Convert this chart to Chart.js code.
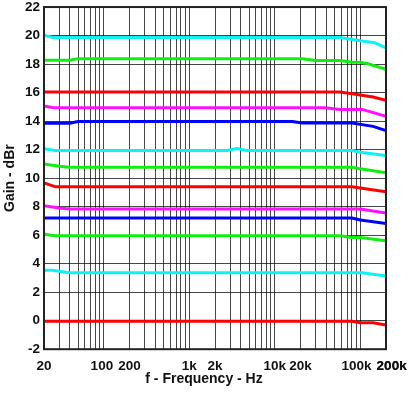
<!DOCTYPE html>
<html>
<head>
<meta charset="utf-8">
<script src="https://cdn.jsdelivr.net/npm/chart.js@4/dist/chart.umd.min.js"></script>
<style>
  html, body { margin: 0; padding: 0; background: #fff; }
  #wrap { width: 408px; height: 396px; }
</style>
</head>
<body>
<div id="wrap"><canvas id="gainChart"></canvas></div>
<script>
// ── DATA ───────────────────────────────────────────────────────
// x-axis labels shown under the log grid (the last two spread apart, as in the original)
const xLabelValues = [20, 100, 200, 1000, 2000, 10000, 20000, 100000, 200000];
const xLabelTexts  = ['20', '100 ', '200', '1k', '2k', '10k', '20k', '100k  ', '   200k'];

// each curve: frequencies (Hz) and gains (dBr)
const cyanAF = [20, 25, 58000, 72000, 100000, 149000, 200000];
const cyanAG = [20.03, 19.87, 19.87, 19.77, 19.63, 19.49, 19.14];

const greenAF = [20, 40, 50, 21000, 30000, 58000, 80000, 100000, 120000, 200000];
const greenAG = [18.27, 18.27, 18.38, 18.38, 18.25, 18.25, 18.13, 18.13, 18.04, 17.63];

const redAF = [20, 58000, 92000, 141000, 200000];
const redAG = [16.04, 16.04, 15.86, 15.69, 15.46];

const magentaAF = [20, 26, 39000, 58000, 105000, 200000];
const magentaAG = [15.06, 14.93, 14.93, 14.82, 14.82, 14.33];

const blueAF = [20, 40, 50, 16000, 21000, 80000, 141000, 200000];
const blueAG = [13.85, 13.85, 13.97, 13.97, 13.86, 13.86, 13.63, 13.34];

const cyanBF = [20, 27, 2800, 3600, 4700, 80000, 100000, 200000];
const cyanBG = [12.06, 11.94, 11.94, 12.08, 11.94, 11.94, 11.82, 11.58];

const greenBF = [20, 30, 40, 80000, 100000, 200000];
const greenBG = [11.0, 10.84, 10.76, 10.76, 10.65, 10.37];

const redBF = [20, 27, 80000, 100000, 200000];
const redBG = [9.66, 9.4, 9.4, 9.31, 9.05];

const magentaBF = [20, 30, 40, 100000, 200000];
const magentaBG = [8.07, 7.9, 7.83, 7.83, 7.55];

const blueBF = [20, 80000, 100000, 200000];
const blueBG = [7.2, 7.2, 7.06, 6.82];

const greenCF = [20, 27, 58000, 80000, 100000, 200000];
const greenCG = [6.07, 5.96, 5.96, 5.84, 5.84, 5.6];

const cyanCF = [20, 25, 40, 105000, 200000];
const cyanCG = [3.54, 3.54, 3.37, 3.37, 3.14];

const redCF = [20, 80000, 100000, 141000, 200000];
const redCG = [-0.04, -0.04, -0.15, -0.15, -0.31];

// ── COLOURS ────────────────────────────────────────────────────
const CYAN = '#10f2f2', GREEN = '#10f010', RED = '#ff0000', MAGENTA = '#ff10ff', BLUE = '#0000ff';

const curves = [
  [cyanAF, cyanAG, CYAN], [greenAF, greenAG, GREEN], [redAF, redAG, RED],
  [magentaAF, magentaAG, MAGENTA], [blueAF, blueAG, BLUE],
  [cyanBF, cyanBG, CYAN], [greenBF, greenBG, GREEN], [redBF, redBG, RED],
  [magentaBF, magentaBG, MAGENTA], [blueBF, blueBG, BLUE],
  [greenCF, greenCG, GREEN], [cyanCF, cyanCG, CYAN], [redCF, redCG, RED],
];

// log grid: 20,30..90,100,200..900,... up to 200k
const xGrid = [];
for (let dec = 10; dec <= 100000; dec *= 10) {
  for (let m = 1; m <= 9; m++) {
    const v = m * dec;
    if (v >= 20 && v <= 200000) xGrid.push(v);
  }
}
xGrid.push(200000);

// frame round the plot area
const framePlugin = {
  id: 'frame',
  afterDraw(chart) {
    const { ctx, chartArea: a } = chart;
    ctx.save();
    ctx.strokeStyle = '#222';
    ctx.lineWidth = 2;
    ctx.strokeRect(a.left, a.top, a.right - a.left, a.bottom - a.top);
    ctx.restore();
  },
};

const FONT = "'Liberation Sans', Arial, sans-serif";
const GRID = 'rgba(0,0,0,0.72)';

new Chart(document.getElementById('gainChart').getContext('2d'), {
  type: 'line',
  data: {
    datasets: curves.map(([f, g, color]) => ({
      data: f.map((x, i) => ({ x, y: g[i] })),
      borderColor: color,
      borderWidth: 3,
      pointRadius: 0,
      tension: 0,
      borderJoinStyle: 'round',
      yAxisID: 'y',
    })),
  },
  options: {
    responsive: true,
    maintainAspectRatio: false,
    animation: false,
    layout: { padding: 0 },
    plugins: {
      legend: { display: false },
      tooltip: { enabled: false },
      title: {
        display: true,
        text: 'f - Frequency - Hz',
        position: 'bottom',
        color: '#111',
        font: { family: FONT, size: 14, weight: 'bold' },
        padding: { top: 0, bottom: 8.5 },
      },
    },
    scales: {
      x: {
        type: 'logarithmic',
        min: 20, max: 200000,
        afterBuildTicks: s => { s.ticks = xGrid.map(v => ({ value: v })); },
        // fixed height; let the end labels overhang instead of shrinking the plot
        afterFit: s => { s.height = 21.5; s.paddingLeft = 0; s.paddingRight = 0; },
        grid: { color: GRID, lineWidth: 1, drawTicks: false },
        border: { display: false },
        ticks: {
          autoSkip: false, maxRotation: 0, padding: 9,
          color: '#111',
          font: { family: FONT, size: 13.5, weight: 'bold' },
          callback: v => {
            const i = xLabelValues.indexOf(v);
            return i >= 0 ? xLabelTexts[i] : '';
          },
        },
      },
      y: {
        min: -2, max: 22,
        afterFit: s => { s.width = 44; },
        grid: { color: GRID, lineWidth: 1, drawTicks: false },
        border: { display: false },
        ticks: {
          stepSize: 2, padding: 4,
          color: '#111',
          font: { family: FONT, size: 13.5, weight: 'bold', lineHeight: 0.45 },
        },
        title: {
          display: true,
          text: 'Gain - dBr',
          color: '#111',
          font: { family: FONT, size: 14, weight: 'bold' },
          padding: { top: 2, bottom: 0 },
        },
      },
      // empty right-hand gap so the plot ends where the reference does
      y2: {
        position: 'right',
        min: -2, max: 22,
        afterFit: s => { s.width = 22; },
        grid: { display: false },
        border: { display: false },
        ticks: { display: false },
      },
    },
  },
  plugins: [framePlugin],
});
</script>
</body>
</html>
